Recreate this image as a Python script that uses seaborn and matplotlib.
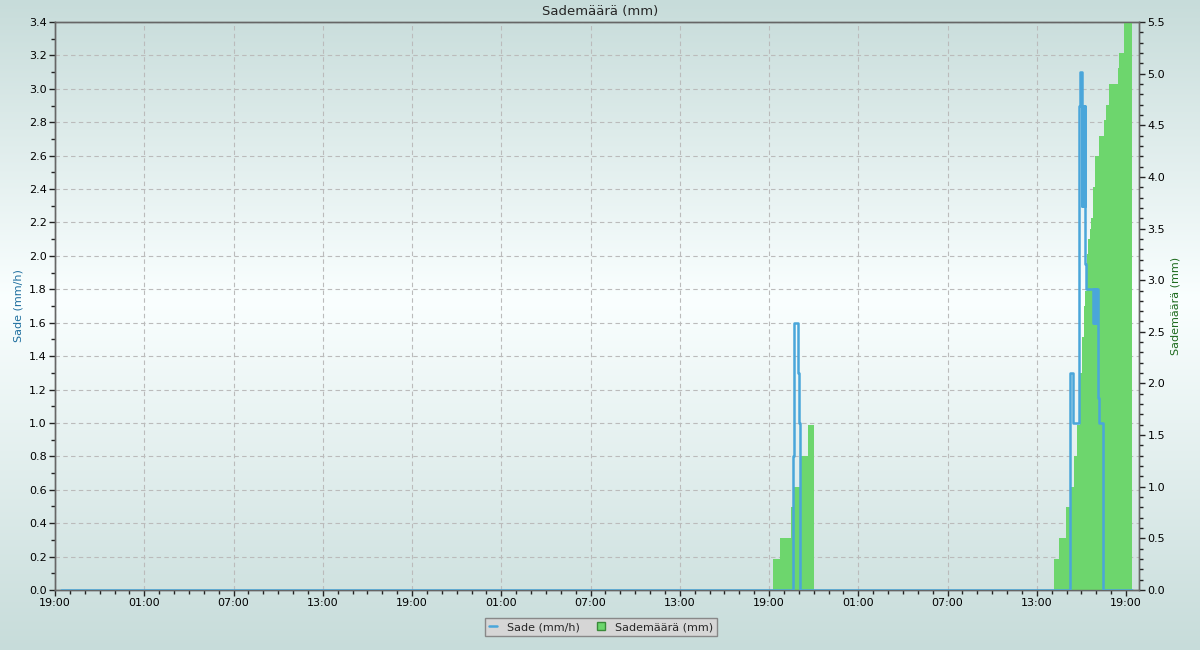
"""
Sademäärä (mm) - rain rate and accumulated rain, 3 days
"""

import pandas as pd
import numpy as np
import matplotlib
matplotlib.use('Agg')
import matplotlib.pyplot as plt
import matplotlib.dates as mdates
from matplotlib.lines import Line2D
import seaborn as sns

# ---------------------------------------------------------------------------
# Data
# ---------------------------------------------------------------------------

# Rain rate (mm/h), step series (value holds until the next time)
rate_time = [
    "2023-08-14 19:24",
    "2023-08-16 20:37", "2023-08-16 20:42", "2023-08-16 20:56", "2023-08-16 21:01",
    "2023-08-16 21:03",
    "2023-08-17 15:12", "2023-08-17 15:24", "2023-08-17 15:50", "2023-08-17 15:53",
    "2023-08-17 16:02", "2023-08-17 16:03", "2023-08-17 16:04", "2023-08-17 16:05",
    "2023-08-17 16:06", "2023-08-17 16:07", "2023-08-17 16:08", "2023-08-17 16:09",
    "2023-08-17 16:10", "2023-08-17 16:11", "2023-08-17 16:12", "2023-08-17 16:13",
    "2023-08-17 16:14", "2023-08-17 16:15", "2023-08-17 16:18",
    "2023-08-17 16:48", "2023-08-17 16:50", "2023-08-17 16:52", "2023-08-17 16:54",
    "2023-08-17 16:56", "2023-08-17 16:58", "2023-08-17 17:00", "2023-08-17 17:02",
    "2023-08-17 17:08", "2023-08-17 17:11", "2023-08-17 17:28",
    "2023-08-17 19:24",
]
rate_vals = [
    0.0,
    0.8, 1.6, 1.3, 1.0,
    0.0,
    1.3, 1.0, 2.9, 3.1,
    2.3, 2.9, 2.3, 2.9,
    2.3, 2.9, 2.3, 2.9,
    2.3, 2.9, 2.3, 2.9,
    2.3, 1.95, 1.8,
    1.6, 1.8, 1.6, 1.8,
    1.6, 1.8, 1.6, 1.8,
    1.15, 1.0, 0.0,
    0.0,
]

# Accumulated rain (mm), step series
amount_time = [
    "2023-08-14 19:24",
    "2023-08-16 19:16", "2023-08-16 19:44", "2023-08-16 20:29", "2023-08-16 20:41",
    "2023-08-16 21:05", "2023-08-16 21:37", "2023-08-16 22:02",
    "2023-08-17 14:10", "2023-08-17 14:30", "2023-08-17 14:58", "2023-08-17 15:14",
    "2023-08-17 15:28", "2023-08-17 15:43", "2023-08-17 15:55", "2023-08-17 16:04",
    "2023-08-17 16:11", "2023-08-17 16:16", "2023-08-17 16:23", "2023-08-17 16:27",
    "2023-08-17 16:35", "2023-08-17 16:39", "2023-08-17 16:47", "2023-08-17 16:55",
    "2023-08-17 17:11", "2023-08-17 17:31", "2023-08-17 17:37", "2023-08-17 17:52",
    "2023-08-17 18:28", "2023-08-17 18:33", "2023-08-17 18:52", "2023-08-17 19:24",
]
amount_vals = [
    0.0,
    0.3, 0.5, 0.8, 1.0,
    1.3, 1.6, 0.0,
    0.3, 0.5, 0.8, 1.0,
    1.3, 1.6, 2.1, 2.45,
    2.75, 2.9, 3.25, 3.4,
    3.5, 3.6, 3.9, 4.2,
    4.4, 4.55, 4.7, 4.9,
    5.05, 5.2, 5.5, 5.5,
]

x_start = "2023-08-14 19:00"
x_end = "2023-08-17 19:52"

rate_df = pd.DataFrame({'time': pd.to_datetime(rate_time), 'rate': rate_vals})
amount_df = pd.DataFrame({'time': pd.to_datetime(amount_time), 'amount': amount_vals})

# ---------------------------------------------------------------------------
# Style
# ---------------------------------------------------------------------------
sns.set_style("ticks")
plt.rcParams['font.family'] = ['DejaVu Sans']
plt.rcParams['font.size'] = 8

blue = '#4aa6da'
green = '#6dd66d'

fig = plt.figure(figsize=(12, 6.5), dpi=100)

# gradient background over the whole figure
bg = fig.add_axes([0, 0, 1, 1], zorder=-10)
yy = np.linspace(0, 1, 650)
edge = np.array([199, 220, 218]) / 255
mid = np.array([250, 255, 255]) / 255
w = np.interp(yy, [0, 300 / 650, 1], [0, 1, 0])[:, None]
grad = edge + (mid - edge) * w
bg.imshow(grad[:, None, :], aspect='auto', extent=[0, 1, 1, 0])
bg.axis('off')

ax = fig.add_axes([55 / 1200, 60 / 650, 1084 / 1200, 568 / 650])
ax.patch.set_visible(False)
ax_amt = ax.twinx()
ax_rate = ax.twinx()

# accumulated rain as filled steps (right axis)
ax_amt.fill_between(amount_df['time'], amount_df['amount'], step='post',
                    color=green, linewidth=0, zorder=2)

# rain rate as step line (hidden axis with the left scale)
sns.lineplot(data=rate_df, x='time', y='rate', ax=ax_rate, color=blue,
             linewidth=1.8, drawstyle='steps-post', estimator=None, sort=False)

# axes limits
xl = (pd.Timestamp(x_start), pd.Timestamp(x_end))
for a in (ax, ax_amt, ax_rate):
    a.set_xlim(xl)
ax.set_ylim(0, 3.4)
ax_rate.set_ylim(0, 3.4)
ax_amt.set_ylim(0, 5.5)

ax_rate.set_ylabel('')
ax_rate.set_xlabel('')
ax_rate.yaxis.set_visible(False)
ax_rate.xaxis.set_visible(False)
for s in ax_rate.spines.values():
    s.set_visible(False)

# left axis
ax.set_yticks(np.arange(0, 3.41, 0.2))
ax.set_yticks(np.arange(0, 3.41, 0.1), minor=True)
ax.yaxis.set_major_formatter(matplotlib.ticker.FormatStrFormatter('%.1f'))
ax.set_ylabel('Sade (mm/h)', color='#1f6f9f', fontsize=8)

# right axis
ax_amt.set_yticks(np.arange(0, 5.51, 0.5))
ax_amt.set_yticks(np.arange(0, 5.51, 0.1), minor=True)
ax_amt.yaxis.set_major_formatter(matplotlib.ticker.FormatStrFormatter('%.1f'))
ax_amt.set_ylabel('Sademäärä (mm)', color='#1e6b1e', fontsize=8)

# time axis
ax.xaxis.set_major_locator(mdates.HourLocator(byhour=[1, 7, 13, 19]))
ax.xaxis.set_minor_locator(mdates.HourLocator())
ax.xaxis.set_major_formatter(mdates.DateFormatter('%H:%M'))
ax_amt.xaxis.set_visible(False)

for a in (ax, ax_amt):
    a.tick_params(which='major', length=4, width=1, color='#222222',
                  labelsize=8, labelcolor='black', pad=2)
    a.tick_params(which='minor', length=3, width=1, color='#222222')
    for s in a.spines.values():
        s.set_color('#666666')
        s.set_linewidth(1)

ax.grid(True, which='major', linestyle=(0, (4, 3)), color='#bbbbbb', linewidth=0.8)
ax.set_axisbelow(True)

fig.text(0.5, 1 - 11 / 650, 'Sademäärä (mm)', ha='center', va='center', fontsize=9.5)

# legend
handles = [Line2D([0], [0], color=blue, linewidth=1.8),
           Line2D([0], [0], marker='s', linestyle='none', markersize=5.5,
                  markerfacecolor=green, markeredgecolor='#3a8a3a')]
leg = fig.legend(handles, ['Sade (mm/h)', 'Sademäärä (mm)'],
                 loc='center', bbox_to_anchor=(601 / 1200, 1 - 627 / 650),
                 ncol=2, fontsize=8, frameon=True, fancybox=False,
                 handlelength=0.7, handletextpad=0.9, columnspacing=1.6,
                 borderpad=0.35)
leg.get_frame().set_facecolor('#d6d6d6')
leg.get_frame().set_edgecolor('#888888')
leg.get_frame().set_alpha(1)
leg.get_frame().set_linewidth(1)

plt.savefig('out.png', dpi=100)
plt.close()
